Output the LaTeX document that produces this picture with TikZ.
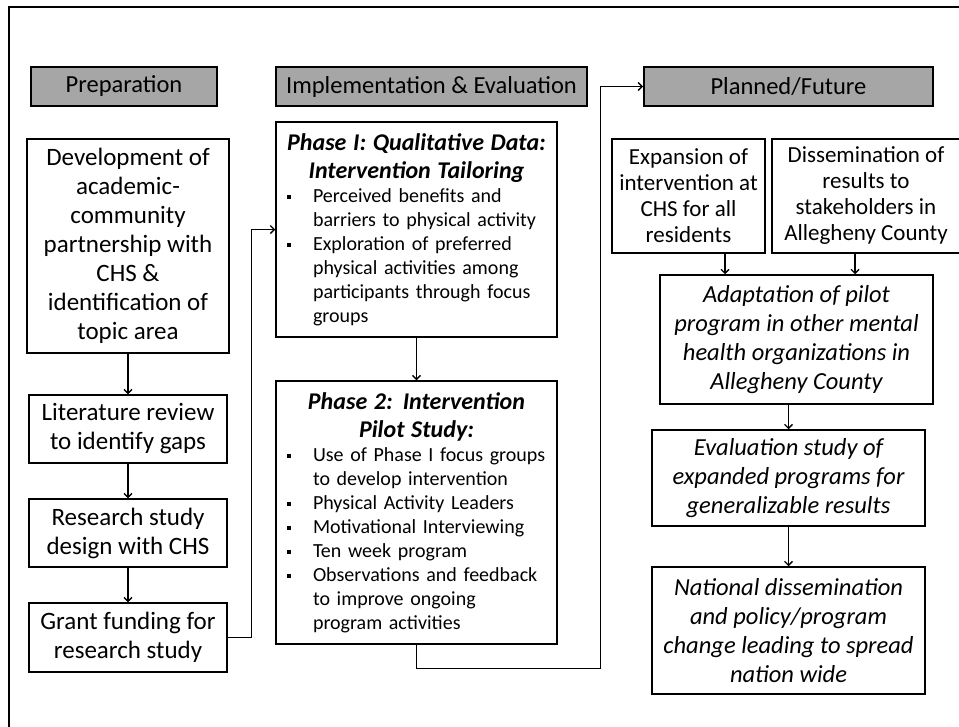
\documentclass[tikz,border=0pt]{standalone}
\usepackage{fontspec}
\setmainfont{Carlito}
\usetikzlibrary{arrows.meta}
\definecolor{hdrgray}{RGB}{166,166,166}
\newcommand{\bpt}{\par\hangindent=29pt\hangafter=1\noindent\makebox[29pt][l]{\hspace{3pt}\raisebox{3.5pt}{\rule{3.5pt}{3.5pt}}}}

\begin{document}
\begin{tikzpicture}[x=1pt,y=-1pt,
  hdr/.style={draw,line width=1.6pt,fill=hdrgray,minimum height=39pt,font=\fontsize{24.5}{28}\selectfont},
  box/.style={draw,line width=1.5pt,align=center,inner sep=2pt,font=\fontsize{25}{29}\selectfont},
  ibox/.style={box,font=\fontsize{24.5}{29}\selectfont\itshape},
  sbox/.style={box,font=\fontsize{23}{26}\selectfont},
  phase/.style={draw,line width=1.5pt,text width=265pt,inner sep=8pt,font=\fontsize{20}{24}\selectfont},
  arr/.style={line width=1.4pt,-{Straight Barb[length=4pt,width=8pt]}}]
\useasboundingbox (0,0) rectangle (959,726);
\draw[line width=2pt] (9,745) -- (9,7) -- (975,7);

\node[hdr,minimum width=186pt] (prep) at (124,86.5) {Preparation};
\node[hdr,minimum width=311pt] (impl) at (431.5,86.5) {Implementation \& Evaluation};
\node[hdr,minimum width=289pt] (plan) at (788.5,86.5) {Planned/Future};

\node[box,minimum width=202pt,minimum height=214pt] (dev) at (128,246) {Development of\\academic-\\community\\partnership with\\CHS \&\\identification of\\topic area};
\node[box,minimum width=198pt,minimum height=68pt] (lit) at (128,429) {Literature review\\to identify gaps};
\node[box,minimum width=198pt,minimum height=68pt] (res) at (128,533) {Research study\\design with CHS};
\node[box,minimum width=198pt,minimum height=69pt] (grant) at (128,637.5) {Grant funding for\\research study};

\node[phase,minimum height=215pt] (ph1) at (416.5,229.5) {{\centering\fontsize{24}{28}\selectfont\bfseries\itshape Phase I: Qualitative Data:\\ Intervention Tailoring\par}
\bpt Perceived benefits and\newline barriers to physical activity
\bpt Exploration of preferred\newline physical activities among\newline participants through focus\newline groups\par};
\node[phase,minimum height=263pt] (ph2) at (416.5,512.5) {{\centering\fontsize{24}{28}\selectfont\bfseries\itshape Phase 2: Intervention\\ Pilot Study:\par}
\bpt Use of Phase I focus groups\newline to develop intervention
\bpt Physical Activity Leaders
\bpt Motivational Interviewing
\bpt Ten week program
\bpt Observations and feedback\newline to improve ongoing\newline program activities\par};

\node[sbox,minimum width=153pt,minimum height=114pt] (exp) at (688.5,196) {Expansion of\\intervention at\\CHS for all\\residents};
\node[sbox,minimum width=188pt,minimum height=114pt] (diss) at (866,196) {Dissemination of\\results to\\stakeholders in\\Allegheny County};
\node[ibox,minimum width=273pt,minimum height=129pt] (adapt) at (796.5,339.5) {Adaptation of pilot\\program in other mental\\health organizations in\\Allegheny County};
\node[ibox,minimum width=273pt,minimum height=96pt] (eval) at (788.5,478) {Evaluation study of\\expanded programs for\\generalizable results};
\node[ibox,minimum width=273pt,minimum height=127pt] (nat) at (788.5,630.5) {National dissemination\\and policy/program\\change leading to spread\\nation wide};

\draw[arr] (dev) -- (lit);
\draw[arr] (lit) -- (res);
\draw[arr] (res) -- (grant);
\draw[arr] (grant.east) -- ++(24,0) |- (ph1.west);
\draw[arr] (ph1) -- (ph2);
\draw[arr] (ph2.south) -- ++(0,24) -| ([xshift=-43pt]plan.west) -- (plan.west);
\draw[arr] ([xshift=36.5pt]exp.south) -- ([xshift=36.5pt]exp.south |- adapt.north);
\draw[arr] ([xshift=-11pt]diss.south) -- ([xshift=-11pt]diss.south |- adapt.north);
\draw[arr] (adapt.south -| eval.north) -- (eval.north);
\draw[arr] (eval) -- (nat);
\end{tikzpicture}
\end{document}
